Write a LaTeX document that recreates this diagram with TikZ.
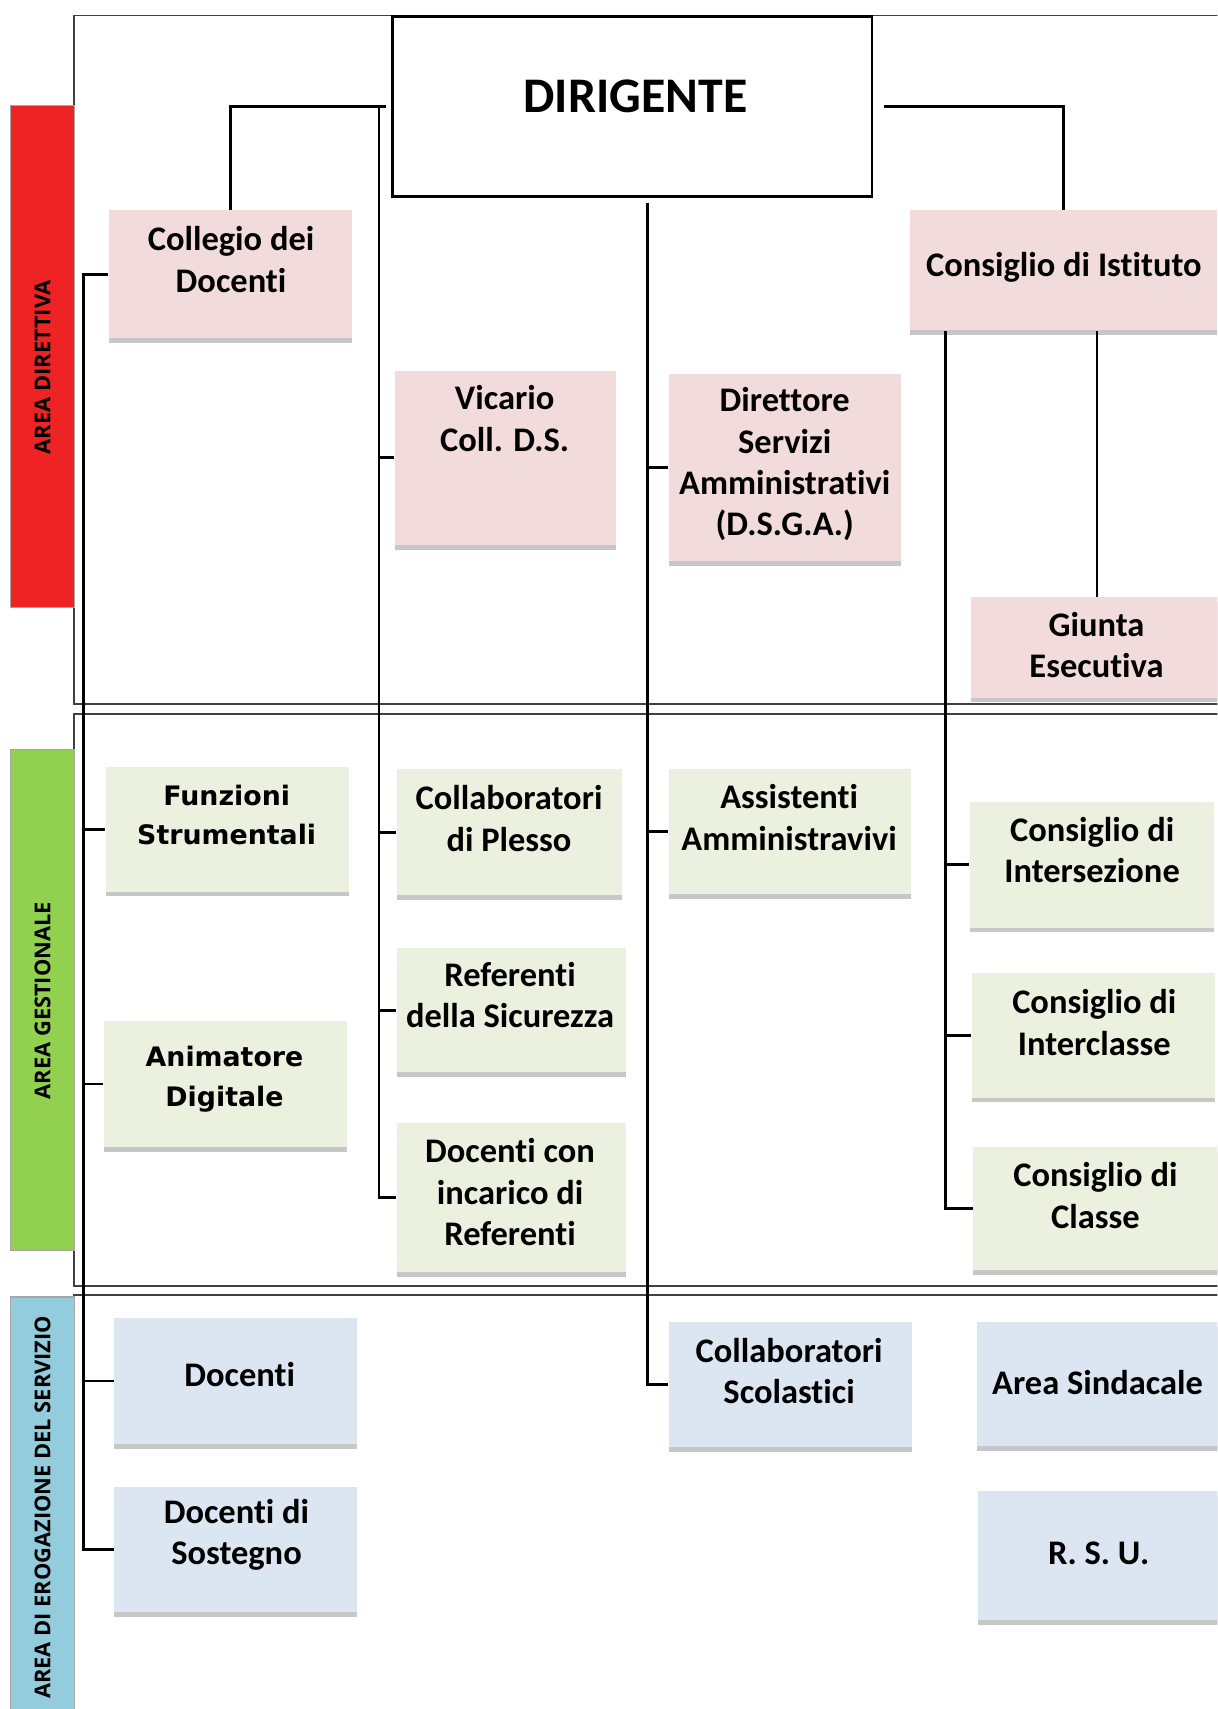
\documentclass[tikz,border=0pt]{standalone}
\usepackage{tikz}
\usetikzlibrary{fit,shadows}
\usepackage{xcolor}
\usepackage{fontspec}
\setmainfont{Carlito}[Ligatures=CommonOff]
\newfontfamily\widefont{DejaVu Sans}
\newfontfamily\sidefont{Open Sans}
\definecolor{dirred}{HTML}{EE2424}
\definecolor{gesgreen}{HTML}{92D050}
\definecolor{erocyan}{HTML}{93CDDD}
\definecolor{pinkfill}{HTML}{F2DCDB}
\definecolor{greenfill}{HTML}{EBF1DE}
\definecolor{bluefill}{HTML}{DCE6F2}

\begin{document}
\begin{tikzpicture}[x=1mm,y=-1mm,
	areaframe/.style={draw=black!75,line width=0.35pt},
	conn/.style={draw=black,line width=0.75pt},
	sidebar/.style={draw=black!35,line width=0.3pt,inner sep=0pt},
	barlabel/.style={rotate=90,inner sep=0pt,font=\sidefont\bfseries\fontsize{5.7}{7}\selectfont},
	orgbox/.style={inner sep=0pt,drop shadow={shadow xshift=0mm,shadow yshift=-0.45mm,fill=black!22,opacity=1}},
	pinkbox/.style={orgbox,fill=pinkfill},
	greenbox/.style={orgbox,fill=greenfill},
	bluebox/.style={orgbox,fill=bluefill},
	txt/.style={align=center,inner sep=0pt,font=\bfseries\fontsize{9}{10.8}\selectfont},
	widetxt/.style={txt,font=\widefont\bfseries\fontsize{7}{10.3}\selectfont}]
	\useasboundingbox (0,0) rectangle (111.7,156.8);
	\clip (0,0) rectangle (111.7,156.8);

	% area frames
	\draw[areaframe] (6.8,1.4) rectangle (115,64.6);
	\draw[areaframe] (6.8,65.5) rectangle (115,118.0);
	\draw[areaframe] (6.8,118.8) rectangle (115,160);

	% side bars
	\node (dirbar) [sidebar,fill=dirred,fit={(1.0,9.7) (6.8,55.7)}] {};
	\node (dirbar-t) at (3.9,33.7) [barlabel] {AREA DIRETTIVA};
	\node (gesbar) [sidebar,fill=gesgreen,fit={(1.0,68.8) (6.8,114.7)}] {};
	\node (gesbar-t) at (3.9,91.8) [barlabel] {AREA GESTIONALE};
	\node (erobar) [sidebar,fill=erocyan,fit={(1.0,119.0) (6.8,158.0)}] {};
	\node (erobar-t) at (3.9,138.3) [barlabel] {AREA DI EROGAZIONE DEL SERVIZIO};

	% area direttiva
	\node (dir) [fit={(36.0,1.5) (80.0,18.0)},inner sep=0pt,draw=black,line width=0.7pt,fill=white] {};
	\node (dir-t) at (58.3,8.8) [inner sep=0pt,font=\bfseries\fontsize{13}{15}\selectfont] {DIRIGENTE};
	\node (coll) [pinkbox,fit={(10.0,19.3) (32.3,31.0)}] {};
	\node (coll-t) at (21.2,23.8) [txt] {Collegio dei\\Docenti};
	\node (vic) [pinkbox,fit={(36.2,34.0) (56.5,50.0)}] {};
	\node (vic-t) at (46.3,38.4) [txt] {Vicario\\Coll. D.S.};
	\node (dsga) [pinkbox,fit={(61.4,34.3) (82.7,51.5)}] {};
	\node (dsga-t) at (72.0,42.6) [txt] {Direttore\\Servizi\\Amministrativi\\(D.S.G.A.)};
	\node (cist) [pinkbox,fit={(83.5,19.3) (111.7,30.3)}] {};
	\node (cist-t) at (97.6,24.5) [txt] {Consiglio di Istituto};
	\node (giunta) [pinkbox,fit={(89.1,54.8) (112.2,64.0)}] {};
	\node (giunta-t) at (100.6,59.2) [txt] {Giunta\\Esecutiva};

	% area gestionale
	\node (funz) [greenbox,fit={(9.7,70.4) (32.0,81.8)}] {};
	\node (funz-t) at (20.8,74.8) [widetxt] {Funzioni\\Strumentali};
	\node (anim) [greenbox,fit={(9.5,93.7) (31.8,105.2)}] {};
	\node (anim-t) at (20.6,99.0) [widetxt] {Animatore\\Digitale};
	\node (plesso) [greenbox,fit={(36.4,70.6) (57.1,82.1)}] {};
	\node (plesso-t) at (46.7,75.1) [txt] {Collaboratori\\di Plesso};
	\node (sicur) [greenbox,fit={(36.4,87.0) (57.4,98.4)}] {};
	\node (sicur-t) at (46.8,91.3) [txt] {Referenti\\della Sicurezza};
	\node (incar) [greenbox,fit={(36.4,103.0) (57.4,116.7)}] {};
	\node (incar-t) at (46.8,109.4) [txt] {Docenti con\\incarico di\\Referenti};
	\node (assist) [greenbox,fit={(61.4,70.6) (83.6,82.0)}] {};
	\node (assist-t) at (72.4,75.0) [txt] {Assistenti\\Amministravivi};
	\node (inters) [greenbox,fit={(89.0,73.6) (111.4,85.1)}] {};
	\node (inters-t) at (100.2,78.0) [txt] {Consiglio di\\Intersezione};
	\node (intercl) [greenbox,fit={(89.2,89.3) (111.5,100.7)}] {};
	\node (intercl-t) at (100.4,93.8) [txt] {Consiglio di\\Interclasse};
	\node (classe) [greenbox,fit={(89.3,105.2) (112.2,116.5)}] {};
	\node (classe-t) at (100.5,109.7) [txt] {Consiglio di\\Classe};

	% area di erogazione
	\node (doc) [bluebox,fit={(10.5,120.9) (32.8,132.5)}] {};
	\node (doc-t) at (22.0,126.1) [txt] {Docenti};
	\node (sost) [bluebox,fit={(10.5,136.4) (32.8,147.9)}] {};
	\node (sost-t) at (21.7,140.8) [txt] {Docenti di\\Sostegno};
	\node (scol) [bluebox,fit={(61.4,121.3) (83.7,132.8)}] {};
	\node (scol-t) at (72.4,125.8) [txt] {Collaboratori\\Scolastici};
	\node (sind) [bluebox,fit={(89.6,121.3) (112.2,132.7)}] {};
	\node (sind-t) at (100.7,126.8) [txt] {Area Sindacale};
	\node (rsu) [bluebox,fit={(89.7,136.8) (112.2,148.6)}] {};
	\node (rsu-t) at (100.8,142.5) [txt] {R. S. U.};

	% connectors
	\coordinate (ltrunk) at ([xshift=-1.1mm]dir.west);
	\coordinate (mtrunk) at ([xshift=1.4mm,yshift=-0.5mm]dir.south);
	\coordinate (rtrunk) at ([xshift=3.3mm]cist.south west);
	\coordinate (ctrunk) at ([xshift=-2.3mm]coll.west);
	\draw[conn] ([xshift=-0.5mm]dir.west) -| (coll);
	\draw[conn] ([xshift=1mm]dir.east) -| (cist);
	\draw[conn] (ltrunk) |- (vic) (ltrunk) |- (plesso) (ltrunk) |- (sicur) (ltrunk) |- (incar);
	\draw[conn] (mtrunk) |- (dsga) (mtrunk) |- (assist) (mtrunk) |- (scol);
	\draw[conn] (rtrunk) |- (inters) (rtrunk) |- (intercl) (rtrunk) |- (classe);
	\draw[conn] (giunta) -- (giunta |- cist.south);
	\draw[conn] (coll) -- (ctrunk) |- (funz) (ctrunk) |- (anim) (ctrunk) |- (doc) (ctrunk) |- (sost);
\end{tikzpicture}
\end{document}
